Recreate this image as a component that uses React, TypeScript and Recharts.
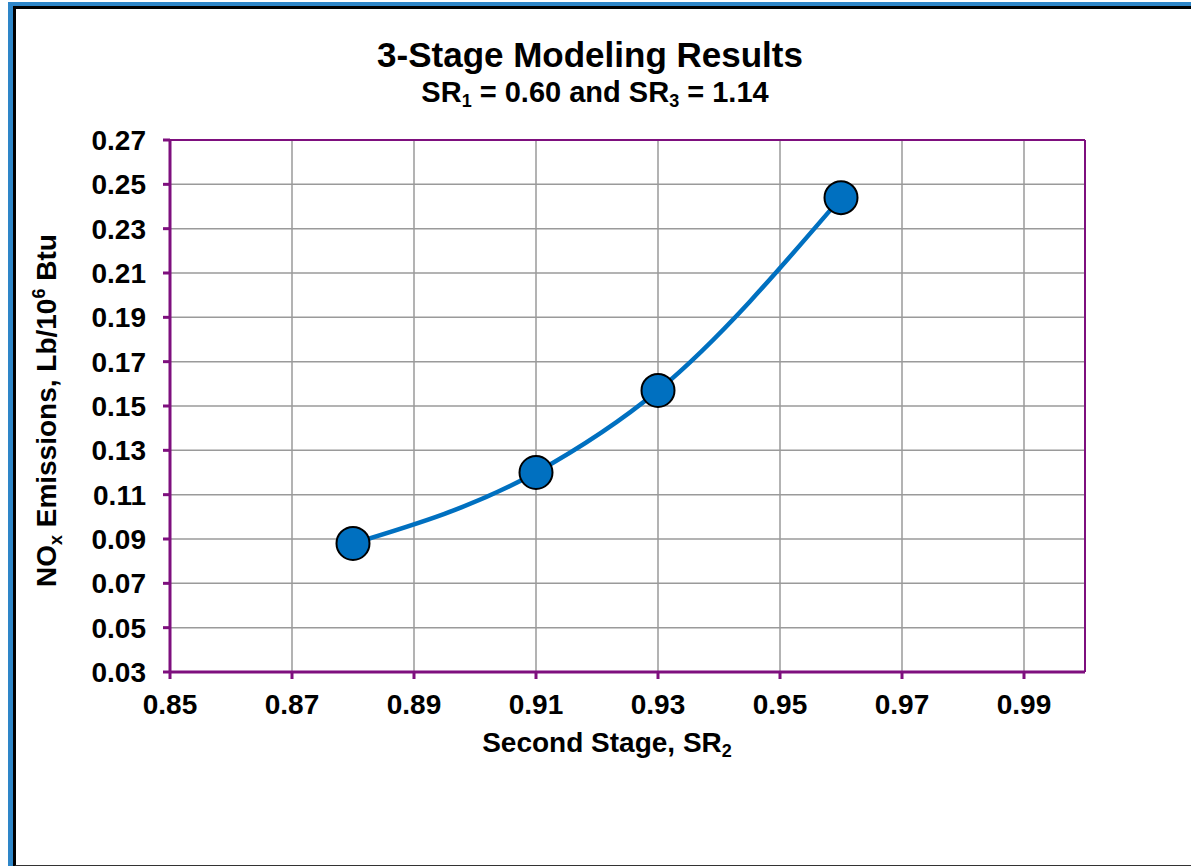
import React from 'react';
import {
  LineChart,
  Line,
  XAxis,
  YAxis,
  CartesianGrid,
  ReferenceLine,
} from 'recharts';

const secondStageSR = [0.88, 0.91, 0.93, 0.96];
const noxEmissions = [0.088, 0.12, 0.157, 0.244];
const xTicks = [0.85, 0.87, 0.89, 0.91, 0.93, 0.95, 0.97, 0.99];
const yTicks = [0.03, 0.05, 0.07, 0.09, 0.11, 0.13, 0.15, 0.17, 0.19, 0.21, 0.23, 0.25, 0.27];

const PURPLE = '#7E0F7E';
const BLUE = '#0070C0';
const FONT = '"Liberation Sans", Arial, Helvetica, sans-serif';

const data = secondStageSR.map((sr, i) => ({ sr, nox: noxEmissions[i] }));

const tickStyle = { fontFamily: FONT, fontSize: 28, fontWeight: 700, fill: '#000' };

const sub = { fontSize: 18, verticalAlign: '-0.3em' };

export default function App() {
  return (
    <div style={{ position: 'absolute', left: 0, top: 0, width: 1191, height: 866, overflow: 'hidden', background: '#fff' }}>
      {/* outer frame: blue then black */}
      <div
        style={{
          position: 'absolute',
          left: 8,
          top: 2,
          width: 1191,
          height: 870,
          borderLeft: '5px solid #2E86C8',
          borderTop: '4px solid #2E86C8',
        }}
      />
      <div
        style={{
          position: 'absolute',
          left: 13,
          top: 6,
          width: 1191,
          height: 856,
          borderLeft: '3px solid #000',
          borderTop: '3px solid #000',
          borderBottom: '2px solid #333',
        }}
      />

      <div style={{ position: 'absolute', left: 0, top: 0 }}>
        <LineChart width={1191} height={866} data={data} margin={{ top: 140, right: 106, left: 0, bottom: 164 }}>
          <CartesianGrid stroke="#9a9a9a" strokeWidth={1.5} />
          <XAxis
            dataKey="sr"
            type="number"
            domain={[0.85, 1.0]}
            ticks={xTicks}
            tickFormatter={(v: number) => v.toFixed(2)}
            height={30}
            tick={tickStyle}
            tickSize={7}
            tickMargin={15}
            axisLine={{ stroke: PURPLE, strokeWidth: 3 }}
            tickLine={{ stroke: PURPLE, strokeWidth: 3 }}
            allowDataOverflow
          />
          <YAxis
            type="number"
            domain={[0.03, 0.27]}
            ticks={yTicks}
            tickFormatter={(v: number) => v.toFixed(2)}
            width={170}
            tick={tickStyle}
            tickSize={7}
            tickMargin={17}
            axisLine={{ stroke: PURPLE, strokeWidth: 3 }}
            tickLine={{ stroke: PURPLE, strokeWidth: 3 }}
            allowDataOverflow
          />
          <ReferenceLine y={0.27} stroke={PURPLE} strokeWidth={2} />
          <ReferenceLine x={1.0} stroke={PURPLE} strokeWidth={2} />
          <Line
            dataKey="nox"
            type="monotone"
            stroke={BLUE}
            strokeWidth={4.5}
            dot={{ r: 16.5, fill: BLUE, stroke: '#000', strokeWidth: 2 }}
            activeDot={false}
            isAnimationActive={false}
          />
        </LineChart>
      </div>

      {/* titles */}
      <div
        style={{
          position: 'absolute',
          left: 340,
          width: 500,
          top: 36,
          textAlign: 'center',
          fontFamily: FONT,
          fontWeight: 700,
          fontSize: 35,
          lineHeight: '38px',
          whiteSpace: 'nowrap',
        }}
      >
        3-Stage Modeling Results
      </div>
      <div
        style={{
          position: 'absolute',
          left: 345,
          width: 500,
          top: 76,
          textAlign: 'center',
          fontFamily: FONT,
          fontWeight: 700,
          fontSize: 29,
          lineHeight: '32px',
          whiteSpace: 'nowrap',
        }}
      >
        SR<sub style={sub}>1</sub> = 0.60 and SR<sub style={sub}>3</sub> = 1.14
      </div>

      {/* x axis title */}
      <div
        style={{
          position: 'absolute',
          left: 357,
          width: 500,
          top: 727,
          textAlign: 'center',
          fontFamily: FONT,
          fontWeight: 700,
          fontSize: 28,
          lineHeight: '31px',
          whiteSpace: 'nowrap',
        }}
      >
        Second Stage, SR<sub style={sub}>2</sub>
      </div>

      {/* y axis title */}
      <div
        style={{
          position: 'absolute',
          left: 48 - 250,
          width: 500,
          top: 402 - 15,
          textAlign: 'center',
          fontFamily: FONT,
          fontWeight: 700,
          fontSize: 28,
          lineHeight: '31px',
          whiteSpace: 'nowrap',
          transform: 'rotate(-90deg)',
        }}
      >
        NO<sub style={sub}>x</sub> Emissions, Lb/10<sup style={{ fontSize: 18, verticalAlign: '0.6em' }}>6</sup> Btu
      </div>
    </div>
  );
}
